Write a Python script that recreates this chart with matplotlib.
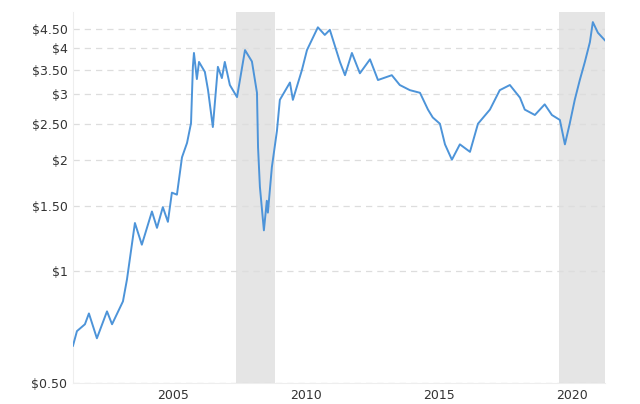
import matplotlib.pyplot as plt
from matplotlib.ticker import FixedLocator, NullLocator

# weekly-ish copper price readings (year, $/lb)
years = [2001.24, 2001.39, 2001.69, 2001.84, 2002.14, 2002.52, 2002.71, 2003.12, 2003.27, 2003.57,
         2003.83, 2004.21, 2004.40, 2004.62, 2004.81, 2004.96, 2005.15, 2005.34, 2005.53, 2005.68,
         2005.75, 2005.79, 2005.90, 2005.98, 2006.20, 2006.32, 2006.50, 2006.69, 2006.84, 2006.95,
         2007.14, 2007.41, 2007.71, 2007.97, 2008.16, 2008.20, 2008.27, 2008.42, 2008.53, 2008.57,
         2008.72, 2008.91, 2009.02, 2009.40, 2009.51, 2009.85, 2010.04, 2010.45, 2010.71, 2010.90,
         2011.28, 2011.47, 2011.73, 2012.03, 2012.41, 2012.71, 2013.23, 2013.53, 2013.91, 2014.29,
         2014.59, 2014.77, 2015.04, 2015.23, 2015.49, 2015.79, 2016.17, 2016.47, 2016.92, 2017.29,
         2017.67, 2018.05, 2018.23, 2018.61, 2018.98, 2019.25, 2019.55, 2019.74, 2019.92, 2020.11,
         2020.30, 2020.49, 2020.68, 2020.79, 2020.98, 2021.24]
prices = [0.63, 0.69, 0.72, 0.77, 0.66, 0.78, 0.72, 0.83, 0.95, 1.35,
          1.18, 1.45, 1.31, 1.49, 1.36, 1.63, 1.61, 2.03, 2.22, 2.51,
          3.56, 3.88, 3.30, 3.67, 3.45, 3.08, 2.45, 3.56, 3.32, 3.67,
          3.18, 2.95, 3.95, 3.68, 3.03, 2.16, 1.69, 1.29, 1.55, 1.44,
          1.91, 2.39, 2.90, 3.23, 2.90, 3.49, 3.95, 4.55, 4.34, 4.48,
          3.67, 3.38, 3.88, 3.42, 3.73, 3.28, 3.38, 3.18, 3.08, 3.03,
          2.73, 2.60, 2.50, 2.20, 2.00, 2.20, 2.10, 2.50, 2.73, 3.08,
          3.18, 2.94, 2.73, 2.64, 2.82, 2.64, 2.56, 2.20, 2.50, 2.90,
          3.28, 3.67, 4.15, 4.70, 4.40, 4.20]
recessions = [(2007.37, 2008.83), (2019.51, 2021.24)]
ytick_vals = [0.5, 1, 1.5, 2, 2.5, 3, 3.5, 4, 4.5]
ytick_labels = ['$0.50', '$1', '$1.50', '$2', '$2.50', '$3', '$3.50', '$4', '$4.50']
xtick_vals = [2005, 2010, 2015, 2020]

fig = plt.figure(figsize=(6.4, 4.04), dpi=100)
ax = fig.add_axes([0.114, 0.052, 0.831, 0.918])

for a, b in recessions:
    ax.axvspan(a, b, color='#e5e5e5', lw=0, zorder=0)

ax.plot(years, prices, color='#4d94d9', lw=1.4, zorder=3)

ax.set_yscale('log')
ax.set_ylim(0.5, 5.0)
ax.set_xlim(2001.24, 2021.24)
ax.yaxis.set_major_locator(FixedLocator(ytick_vals))
ax.yaxis.set_minor_locator(NullLocator())
ax.set_yticklabels(ytick_labels)
ax.set_xticks(xtick_vals)
ax.set_xticklabels([str(x) for x in xtick_vals])
ax.grid(axis='y', color='#dddddd', ls=(0, (5, 4)), lw=0.9)
ax.tick_params(length=0, labelsize=9, colors='#333333', pad=4)
for s in ['top', 'right']:
    ax.spines[s].set_visible(False)
for s in ['left', 'bottom']:
    ax.spines[s].set_color('#eeeeee')

fig.savefig('out.png', dpi=100)
